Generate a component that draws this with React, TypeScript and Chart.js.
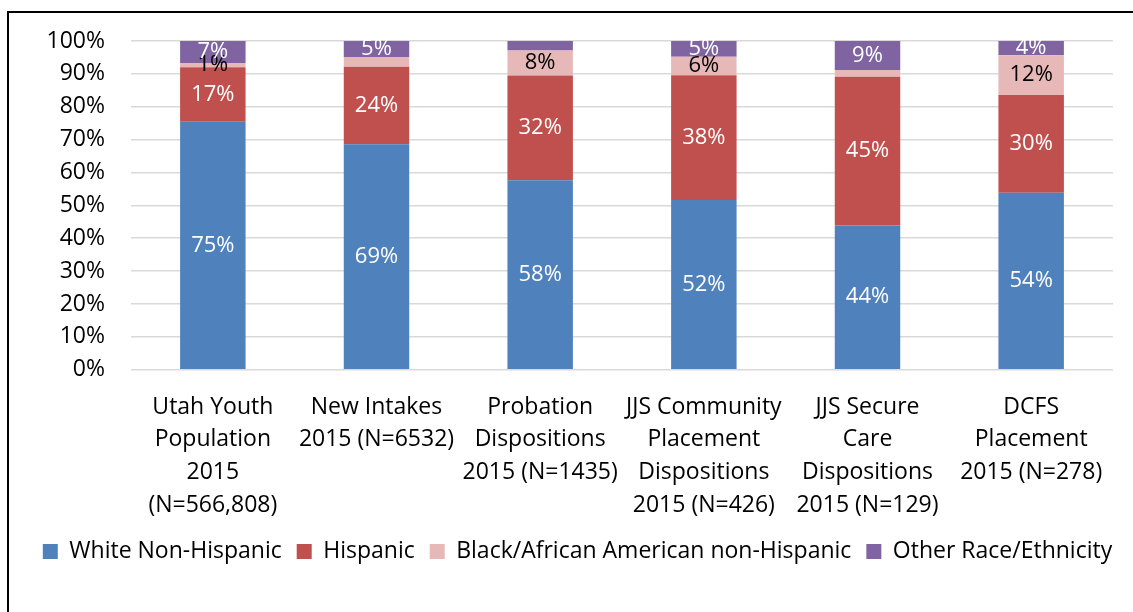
import React, { useEffect, useRef } from "react";
import { Chart, registerables } from "chart.js";

Chart.register(...registerables);

const categories: string[][] = [
  ["Utah Youth", "Population", "2015", "(N=566,808)"],
  ["New Intakes", "2015 (N=6532)"],
  ["Probation", "Dispositions", "2015 (N=1435)"],
  ["JJS Community", "Placement", "Dispositions", "2015 (N=426)"],
  ["JJS Secure", "Care", "Dispositions", "2015 (N=129)"],
  ["DCFS", "Placement", "2015 (N=278)"],
];

const whiteNonHispanic = [75.4, 68.6, 57.6, 51.6, 43.9, 53.8];
const hispanic = [16.6, 23.6, 31.9, 38.0, 45.2, 29.8];
const blackNonHispanic = [1.3, 2.9, 7.6, 5.6, 2.1, 12.1];
const otherRace = [6.7, 4.9, 2.9, 4.8, 8.8, 4.3];

// which value labels are shown in the reference
const showWhite = [true, true, true, true, true, true];
const showHispanic = [true, true, true, true, true, true];
const showBlack = [true, false, true, true, false, true];
const showOther = [true, true, false, true, true, true];

const yTicks = [0, 10, 20, 30, 40, 50, 60, 70, 80, 90, 100];

const FONT = "'Open Sans', 'Noto Sans', sans-serif";

const valueLabels = {
  id: "valueLabels",
  afterDatasetsDraw(chart: any) {
    const ctx = chart.ctx;
    ctx.save();
    ctx.font = `22px ${FONT}`;
    ctx.textAlign = "center";
    ctx.textBaseline = "middle";
    chart.data.datasets.forEach((ds: any, di: number) => {
      const meta = chart.getDatasetMeta(di);
      meta.data.forEach((el: any, i: number) => {
        if (!ds.showLabels[i]) return;
        const v = ds.data[i];
        const y = (el.y + el.base) / 2;
        ctx.fillStyle = ds.labelColor;
        ctx.fillText(`${Math.round(v)}%`, el.x, y);
      });
    });
    ctx.restore();
  },
};

const frame = {
  id: "frame",
  beforeDraw(chart: any) {
    const ctx = chart.ctx;
    ctx.save();
    ctx.fillStyle = "#ffffff";
    ctx.fillRect(0, 0, chart.width, chart.height);
    ctx.strokeStyle = "#000000";
    ctx.lineWidth = 2;
    ctx.beginPath();
    ctx.moveTo(8, chart.height + 2);
    ctx.lineTo(8, 12);
    ctx.lineTo(chart.width + 2, 12);
    ctx.stroke();
    ctx.restore();
  },
};

// the reference legend is centred on the whole frame, slightly right of the plot
const legendShift = {
  id: "legendShift",
  afterLayout(chart: any) {
    const lg = chart.legend;
    if (lg) {
      lg.left += 21;
      lg.right += 21;
    }
  },
};

export default function App() {
  const ref = useRef<HTMLCanvasElement>(null);
  useEffect(() => {
    if (!ref.current) return;
    const chart = new Chart(ref.current, {
      type: "bar",
      data: {
        labels: categories,
        datasets: [
          {
            label: "White Non-Hispanic",
            data: whiteNonHispanic,
            backgroundColor: "#4F81BD",
            showLabels: showWhite,
            labelColor: "#ffffff",
          } as any,
          {
            label: "Hispanic",
            data: hispanic,
            backgroundColor: "#C0504D",
            showLabels: showHispanic,
            labelColor: "#ffffff",
          } as any,
          {
            label: "Black/African American non-Hispanic",
            data: blackNonHispanic,
            backgroundColor: "#E6B9B8",
            showLabels: showBlack,
            labelColor: "#000000",
          } as any,
          {
            label: "Other Race/Ethnicity",
            data: otherRace,
            backgroundColor: "#8064A2",
            showLabels: showOther,
            labelColor: "#ffffff",
          } as any,
        ],
      },
      options: {
        animation: false,
        responsive: false,
        maintainAspectRatio: false,
        layout: { padding: { left: 0, right: 20, top: 41, bottom: 39 } },
        datasets: { bar: { categoryPercentage: 1, barPercentage: 0.4 } },
        plugins: {
          tooltip: { enabled: false },
          legend: {
            position: "bottom",
            labels: {
              boxWidth: 15,
              boxHeight: 15,
              padding: 15,
              color: "#000000",
              font: { family: FONT, size: 23 },
            },
          },
        },
        scales: {
          x: {
            stacked: true,
            grid: { display: false, drawTicks: false },
            border: { display: false },
            ticks: {
              color: "#000000",
              padding: 21,
              maxRotation: 0,
              autoSkip: false,
              font: { family: FONT, size: 23, lineHeight: 1.42 },
            },
            afterFit(scale: any) {
              scale.height = 155.3;
            },
          },
          y: {
            stacked: true,
            min: 0,
            max: 100,
            afterBuildTicks(scale: any) {
              scale.ticks = yTicks.map((v) => ({ value: v }));
            },
            grid: { color: "#D9D9D9", lineWidth: 1.5, drawTicks: false },
            border: { display: false },
            ticks: {
              color: "#000000",
              padding: 26,
              font: { family: FONT, size: 23 },
              callback: (v: any) => `${v}%`,
            },
            afterFit(scale: any) {
              scale.width = 131;
            },
          },
        },
      },
      plugins: [frame, valueLabels, legendShift],
    });
    return () => chart.destroy();
  }, []);
  return (
    <div style={{ position: "fixed", left: 0, top: 0, width: 1133, height: 612, background: "#fff" }}>
      <canvas ref={ref} width={1133} height={612} style={{ width: 1133, height: 612, display: "block" }} />
    </div>
  );
}
